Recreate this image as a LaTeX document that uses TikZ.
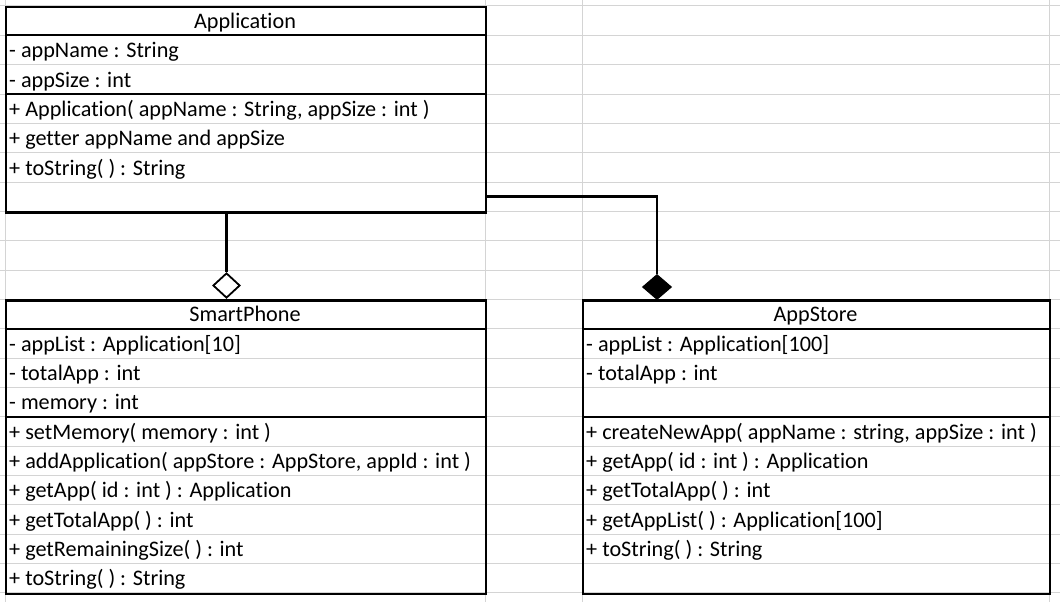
\documentclass[tikz,border=0pt]{standalone}
\usepackage{fontspec}
\setmainfont{Carlito}[Ligatures=NoCommon]
\usetikzlibrary{shapes.geometric}
\definecolor{gridgray}{HTML}{D4D4D4}
\newcommand\cellfont{\fontsize{22.2}{26}\selectfont}
\begin{document}
\begin{tikzpicture}[x=1pt,y=-1pt,
  gridline/.style={draw=gridgray,line width=1pt},
  umlbox/.style={draw=black,line width=2.2pt,rectangle,inner sep=0pt,anchor=north west},
  sep/.style={draw=black,line width=2.2pt},
  conn/.style={draw=black,line width=2.4pt},
  txt/.style={anchor=base west,inner sep=0pt,font=\cellfont},
  hdr/.style={anchor=base,inner sep=0pt,font=\cellfont},
  agg/.style={shape=diamond,draw=black,fill=white,line width=1.8pt,inner sep=0pt,minimum width=27pt,minimum height=25pt},
  comp/.style={shape=diamond,draw=black,fill=black,line width=1pt,inner sep=0pt,minimum width=29pt,minimum height=25pt}]
\useasboundingbox[fill=white] (0,0) rectangle (1060,602);
% spreadsheet grid
\foreach \k in {0,...,20} {
  \draw[gridline] (0,{6+29.335*\k}) -- (1060,{6+29.335*\k});
}
\foreach \xx in {5,485,582,1049} {
  \draw[gridline] (\xx,0) -- (\xx,602);
}
% Application
\node[umlbox,minimum width=480pt,minimum height=205.35pt] (app) at (5,6) {};
\draw[sep] (5,35.33) -- (485,35.33);
\draw[sep] (5,94.0) -- (485,94.0);
\node[hdr] (apph) at (245,28.3) {Application};
\node[txt] (a1) at (9,57.7) {- appName : String};
\node[txt] (a2) at (9,87.0) {- appSize : int};
\node[txt] (a3) at (9,116.3) {+ Application( appName : String, appSize : int )};
\node[txt] (a4) at (9,145.7) {+ getter appName and appSize};
\node[txt] (a5) at (9,175.0) {+ toString( ) : String};
% SmartPhone
\node[umlbox,minimum width=480pt,minimum height=293.35pt] (sp) at (5,299.35) {};
\draw[sep] (5,328.7) -- (485,328.7);
\draw[sep] (5,416.7) -- (485,416.7);
\node[hdr] (sph) at (245,321.7) {SmartPhone};
\node[txt] (s1) at (9,351.0) {- appList : Application[10]};
\node[txt] (s2) at (9,380.4) {- totalApp : int};
\node[txt] (s3) at (9,409.7) {- memory : int};
\node[txt] (s4) at (9,439.0) {+ setMemory( memory : int )};
\node[txt] (s5) at (9,468.4) {+ addApplication( appStore : AppStore, appId : int )};
\node[txt] (s6) at (9,497.7) {+ getApp( id : int ) : Application};
\node[txt] (s7) at (9,527.0) {+ getTotalApp( ) : int};
\node[txt] (s8) at (9,556.4) {+ getRemainingSize( ) : int};
\node[txt] (s9) at (9,585.7) {+ toString( ) : String};
% AppStore
\node[umlbox,minimum width=467pt,minimum height=293.35pt] (as) at (582,299.35) {};
\draw[sep] (582,328.7) -- (1049,328.7);
\draw[sep] (582,416.7) -- (1049,416.7);
\node[hdr] (ash) at (815.5,321.7) {AppStore};
\node[txt] (t1) at (586,351.0) {- appList : Application[100]};
\node[txt] (t2) at (586,380.4) {- totalApp : int};
\node[txt] (t3) at (586,439.0) {+ createNewApp( appName : string, appSize : int )};
\node[txt] (t4) at (586,468.4) {+ getApp( id : int ) : Application};
\node[txt] (t5) at (586,497.7) {+ getTotalApp( ) : int};
\node[txt] (t6) at (586,527.0) {+ getAppList( ) : Application[100]};
\node[txt] (t7) at (586,556.4) {+ toString( ) : String};
% connectors
\node[agg] (aggd) at (226.5,285.5) {};
\draw[conn] (aggd.north |- app.south) -- (aggd.north);
\node[comp] (compd) at (657,287) {};
\coordinate (cbend) at (657,196.5);
\draw[conn] (cbend -| app.east) -- (cbend) -- (compd.north);
\end{tikzpicture}
\end{document}
